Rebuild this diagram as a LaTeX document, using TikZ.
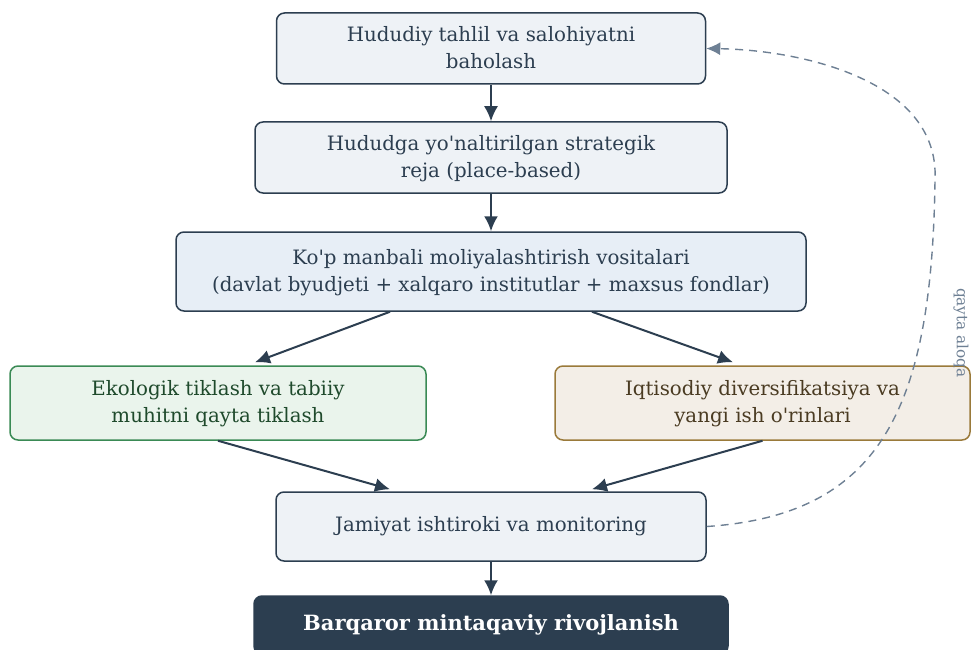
\documentclass[tikz,border=0pt]{standalone}
\usepackage{fontspec}
\setmainfont[Ligatures=TeXOff]{DejaVu Serif}
\usetikzlibrary{arrows.meta,calc}
\definecolor{navy}{HTML}{2C3E50}
\definecolor{boxfill}{HTML}{EEF2F6}
\definecolor{boxfillb}{HTML}{E7EEF6}
\definecolor{greenfill}{HTML}{EAF4EC}
\definecolor{greenline}{HTML}{3A8A55}
\definecolor{greentext}{HTML}{1F4A2C}
\definecolor{tanfill}{HTML}{F3EEE7}
\definecolor{tanline}{HTML}{9A7A3A}
\definecolor{tantext}{HTML}{4A3B22}
\definecolor{fbgrey}{HTML}{6E8094}
\tikzset{
  stepbox/.style={draw=navy, line width=1.5pt, rounded corners=8pt, fill=boxfill,
    text=navy, align=center, font=\fontsize{19.8}{27}\selectfont, inner sep=0pt},
  greenbox/.style={stepbox, draw=greenline, fill=greenfill, text=greentext},
  tanbox/.style={stepbox, draw=tanline, fill=tanfill, text=tantext},
  darkbox/.style={stepbox, fill=navy, draw=navy, text=white, font=\fontsize{21}{27}\selectfont\bfseries},
  conn/.style={draw=navy, line width=2pt, -{Latex[length=15pt,width=14pt]}},
  fb/.style={draw=fbgrey, line width=1.4pt, dash pattern=on 8pt off 6pt, -{Latex[length=14pt,width=13pt]}}
}
\begin{document}
\begin{tikzpicture}[x=1pt,y=-1pt]
\useasboundingbox (0,0) rectangle (971,650);
\node[stepbox, minimum width=429pt, minimum height=71pt, text depth=3pt] (n1) at (491,48.5) {Hududiy tahlil va salohiyatni\\baholash};
\node[stepbox, minimum width=472pt, minimum height=71pt, text depth=3pt] (n2) at (491,157.5) {Hududga yo'naltirilgan strategik\\reja (place-based)};
\node[stepbox, fill=boxfillb, minimum width=630pt, minimum height=79pt, text depth=3pt] (n3) at (491,271.5) {Ko'p manbali moliyalashtirish vositalari\\(davlat byudjeti + xalqaro institutlar + maxsus fondlar)};
\node[greenbox, minimum width=416pt, minimum height=74pt, text depth=3pt] (ng) at (218,403) {Ekologik tiklash va tabiiy\\muhitni qayta tiklash};
\node[tanbox, minimum width=415pt, minimum height=74pt, text depth=3pt] (nt) at (762.5,403) {Iqtisodiy diversifikatsiya va\\yangi ish o'rinlari};
\node[stepbox, minimum width=430pt, minimum height=69pt] (nj) at (491,526.5) {Jamiyat ishtiroki va monitoring};
\node[darkbox, minimum width=474pt, minimum height=58pt] (nd) at (491,625) {Barqaror mintaqaviy rivojlanish};
\draw[conn] (n1.south) -- (n2.north);
\draw[conn] (n2.south) -- (n3.north);
\draw[conn] ([xshift=-101pt]n3.south) -- ([xshift=37pt,yshift=3pt]ng.north);
\draw[conn] ([xshift=101pt]n3.south) -- ([xshift=-29.5pt,yshift=3pt]nt.north);
\draw[conn] (ng.south) -- ([xshift=-101pt,yshift=2pt]nj.north);
\draw[conn] (nt.south) -- ([xshift=101pt,yshift=2pt]nj.north);
\draw[conn] (nj.south) -- (nd.north);
\coordinate (fbturn) at (935,180);
\draw[fb] (nj.east) .. controls (880,515) and (932,410) .. (fbturn) .. controls (940,80) and (800,50) .. (n1.east);
\node[rotate=-90, text=fbgrey, font=\fontsize{15.3}{17}\selectfont] (lbl) at (961,333) {qayta aloqa};
\end{tikzpicture}
\end{document}
